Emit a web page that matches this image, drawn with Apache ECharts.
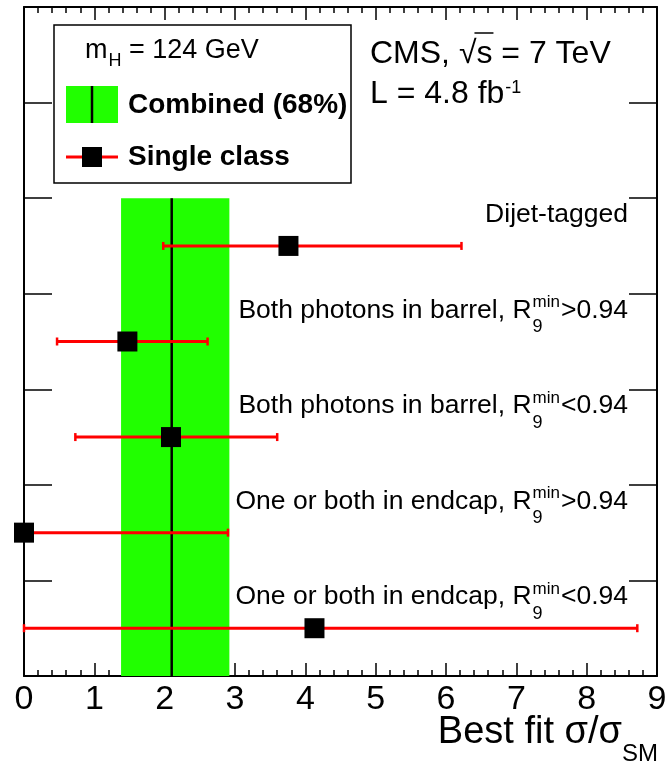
<!DOCTYPE html>
<html><head><meta charset="utf-8">
<script src="https://cdn.jsdelivr.net/npm/echarts@6/dist/echarts.min.js"></script>
<style>html,body{margin:0;padding:0;background:#fff}#c{width:669px;height:768px}</style>
</head><body><div id="c"></div>
<script>
// ---------- data ----------
const FONT = "'Liberation Sans', Arial, sans-serif";
const rowY      = [0.5, 1.5, 2.5, 3.5, 4.5];
const bestFit   = [4.13, 0.00, 2.09, 1.47, 3.76];
const errLow    = [0.00, 0.00, 0.73, 0.47, 1.98];
const errHigh   = [8.72, 2.90, 3.60, 2.61, 6.22];
const labelMain = ['One or both in endcap, R', 'One or both in endcap, R', 'Both photons in barrel, R', 'Both photons in barrel, R', 'Dijet-tagged'];
const labelCut  = ['<0.94', '>0.94', '<0.94', '>0.94', ''];
const labelY    = [0.73, 1.73, 2.73, 3.73, 4.73];
const combined  = [1.38, 2.92, 2.10]; // low, high, best
const combRows  = [0, 5];
const xRange = [0, 9];
const yRange = [0, 7];

// ---------- helpers ----------
const mctx = document.createElement('canvas').getContext('2d');
function measure(text, font) { mctx.font = font; return mctx.measureText(text).width; }
function fnt(size, bold) { return (bold ? 'bold ' : '') + size + 'px ' + FONT; }
function txt(text, x, baseline, size, align, bold) {
  return { type: 'text', style: { text: text, x: x, y: baseline - size * 0.3465,
    font: fnt(size, bold), textAlign: align || 'left', textVerticalAlign: 'middle', fill: '#000' } };
}

const chart = echarts.init(document.getElementById('c'), null, { renderer: 'canvas' });

// ---------- graphics (legend, CMS label, axis title) ----------
const g = [];
g.push({ type: 'rect', shape: { x: 54, y: 25, width: 297, height: 158 }, style: { fill: '#fff', stroke: '#000', lineWidth: 1.5 }, z: 10 });
g.push({ type: 'rect', shape: { x: 66, y: 86, width: 52, height: 37 }, style: { fill: '#21ff00' }, z: 11 });
g.push({ type: 'line', shape: { x1: 92, y1: 86, x2: 92, y2: 123 }, style: { stroke: '#000', lineWidth: 2.5 }, z: 12 });
g.push({ type: 'line', shape: { x1: 66, y1: 157, x2: 118, y2: 157 }, style: { stroke: '#ff0000', lineWidth: 3 }, z: 11 });
g.push({ type: 'rect', shape: { x: 82, y: 147, width: 20, height: 20 }, style: { fill: '#000' }, z: 12 });
(function () {
  const x0 = 85, wm = measure('m', fnt(27));
  g.push(Object.assign(txt('m', x0, 60, 27), { z: 12 }));
  const xH = x0 + wm + 1;
  g.push(Object.assign(txt('H', xH, 67, 18), { z: 12 }));
  const xEq = xH + measure('H', fnt(18)) + measure(' ', fnt(27));
  g.push(Object.assign(txt('= 124 GeV', xEq, 60, 27), { z: 12 }));
})();
g.push(Object.assign(txt('Combined (68%)', 128, 115, 28, 'left', true), { z: 12 }));
g.push(Object.assign(txt('Single class', 128, 167, 28, 'left', true), { z: 12 }));
(function () {
  const x0 = 370, f = 32;
  g.push(Object.assign(txt('CMS, \u221As = 7 TeV', x0, 65, f), { z: 12 }));
  const xs = x0 + measure('CMS, \u221A', fnt(f));
  const ws = measure('s', fnt(f));
  g.push({ type: 'line', shape: { x1: xs - 2, y1: 33, x2: xs + ws + 1, y2: 33 }, style: { stroke: '#000', lineWidth: 1.5 }, z: 12 });
  g.push(Object.assign(txt('L = 4.8 fb', x0, 105, f), { z: 12 }));
  const xsup = x0 + measure('L = 4.8 fb', fnt(f)) + 1;
  g.push(Object.assign(txt('-1', xsup, 94, 18), { z: 12 }));
})();
(function () {
  const xr = 658, wSM = measure('SM', fnt(24));
  g.push(txt('SM', xr, 763, 24, 'right'));
  g.push(txt('Best fit \u03C3/\u03C3', xr - wSM, 746, 38, 'right'));
})();

const axisLineStyle = { color: '#000', width: 2 };
function xAxisDef(pos, showLabel) {
  return {
    type: 'value', position: pos, min: xRange[0], max: xRange[1], interval: 1,
    axisLine: { show: true, onZero: false, lineStyle: axisLineStyle },
    axisTick: { show: true, inside: true, length: 13, lineStyle: { color: '#000', width: 1.5 } },
    minorTick: { show: true, splitNumber: 5, length: 6, lineStyle: { color: '#000', width: 1.5 } },
    splitLine: { show: false }, minorSplitLine: { show: false },
    axisLabel: { show: showLabel, fontSize: 34, fontFamily: FONT, color: '#000', margin: 7,
      showMinLabel: true, showMaxLabel: true, hideOverlap: false }
  };
}
function yAxisDef(pos) {
  return {
    type: 'value', position: pos, min: yRange[0], max: yRange[1], interval: 1,
    axisLine: { show: true, onZero: false, lineStyle: axisLineStyle },
    axisTick: { show: true, inside: true, length: 28, lineStyle: { color: '#000', width: 1.5 } },
    splitLine: { show: false }, axisLabel: { show: false }
  };
}

const option = {
  animation: false,
  backgroundColor: '#fff',
  grid: { left: 24, right: 12, top: 7, bottom: 92, outerBoundsMode: 'none', containLabel: false },
  xAxis: [xAxisDef('bottom', true), xAxisDef('top', false)],
  yAxis: [yAxisDef('left'), yAxisDef('right')],
  graphic: { elements: g },
  series: [
    {
      type: 'custom', xAxisIndex: 0, yAxisIndex: 0, z: 1,
      data: [[combined[0], combined[1], combined[2], combRows[0], combRows[1]]],
      encode: { x: [0, 1, 2], y: [3, 4] },
      renderItem: function (params, api) {
        const lo = api.value(0), hi = api.value(1), best = api.value(2), y0 = api.value(3), y1 = api.value(4);
        const a = api.coord([lo, y1]), b = api.coord([hi, y0]);
        const c0 = api.coord([best, y0]), c1 = api.coord([best, y1]);
        return { type: 'group', children: [
          { type: 'rect', shape: { x: a[0], y: a[1], width: b[0] - a[0], height: b[1] - a[1] }, style: { fill: '#21ff00' } },
          { type: 'line', shape: { x1: c0[0], y1: c0[1], x2: c1[0], y2: c1[1] }, style: { stroke: '#000', lineWidth: 2.5 } }
        ] };
      }
    },
    {
      type: 'custom', xAxisIndex: 0, yAxisIndex: 0, z: 3,
      data: rowY.map((y, i) => [y, errLow[i], errHigh[i]]),
      encode: { x: [1, 2], y: 0 },
      renderItem: function (params, api) {
        const y = api.value(0), lo = api.value(1), hi = api.value(2);
        const p1 = api.coord([lo, y]), p2 = api.coord([hi, y]);
        const cap = 4, st = { stroke: '#ff0000', lineWidth: 3 };
        return { type: 'group', children: [
          { type: 'line', shape: { x1: p1[0], y1: p1[1], x2: p2[0], y2: p2[1] }, style: st },
          { type: 'line', shape: { x1: p1[0], y1: p1[1] - cap, x2: p1[0], y2: p1[1] + cap }, style: { stroke: '#ff0000', lineWidth: 2.5 } },
          { type: 'line', shape: { x1: p2[0], y1: p2[1] - cap, x2: p2[0], y2: p2[1] + cap }, style: { stroke: '#ff0000', lineWidth: 2.5 } }
        ] };
      }
    },
    {
      type: 'scatter', xAxisIndex: 0, yAxisIndex: 0, z: 4, clip: false,
      symbol: 'rect', symbolSize: 20, itemStyle: { color: '#000', opacity: 1 },
      data: rowY.map((y, i) => [bestFit[i], y]),
      emphasis: { disabled: true }
    },
    {
      type: 'custom', xAxisIndex: 0, yAxisIndex: 0, z: 5,
      data: labelY.map((y) => [xRange[1], y]),
      encode: { x: 0, y: 1 },
      renderItem: function (params, api) {
        const i = params.dataIndex;
        const p = api.coord([api.value(0), api.value(1)]);
        const xr = p[0] - 29, yb = p[1], F = 26.5;
        const main = labelMain[i], cut = labelCut[i];
        const ch = [];
        if (!cut) {
          ch.push(txt(main, xr, yb, F, 'right'));
        } else {
          const wCut = measure(cut, fnt(F)), wSup = measure('min', fnt(17));
          const xCut = xr - wCut;
          const xSup = xCut - wSup - 1;
          ch.push(txt(cut, xr, yb, F, 'right'));
          ch.push(txt('min', xSup, yb - 11, 17, 'left'));
          ch.push(txt('9', xSup, yb + 14, 18, 'left'));
          ch.push(txt(main, xSup - 1, yb, F, 'right'));
        }
        return { type: 'group', children: ch };
      }
    }
  ]
};
chart.setOption(option);
</script>
</body></html>
